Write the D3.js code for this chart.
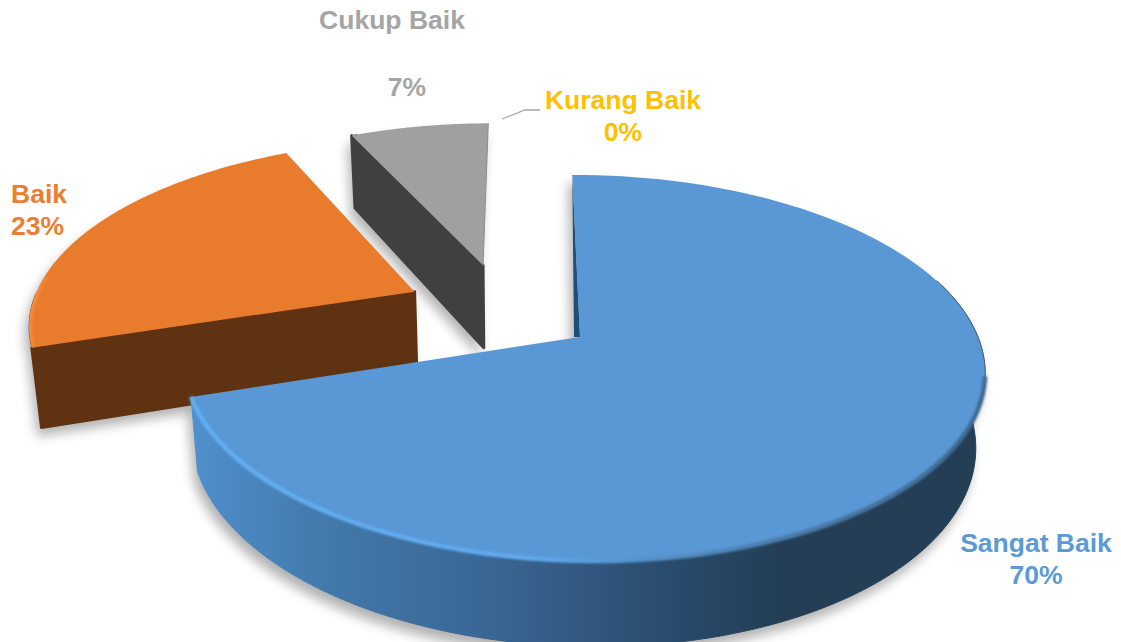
<!DOCTYPE html>
<html>

<head>
    <meta charset="utf-8" />
    <script src="https://d3js.org/d3.v7.min.js"></script>
    <style>
        html, body { margin: 0; padding: 0; background: #fff; overflow: hidden; }
        text { font-family: "Liberation Sans", Arial, sans-serif; font-weight: bold; font-size: 26.5px; }
    </style>
</head>

<body>
    <div id="chart"></div>

    <script>
        // data
        const categories = ["Sangat Baik", "Baik", "Cukup Baik", "Kurang Baik"];
        const values = [70, 23, 7, 0];

        const svgWidth = 1121;
        const svgHeight = 642;

        // colours
        const labelColors = ["#5b9bd5", "#ed7d31", "#a5a5a5", "#ffc000"];
        const topColors = ["#5997d5", "#e97b2d", "#a0a0a0"];
        const wallColors = ["url(#blueWall)", "#5f3212", "#404040"];
        const cutColors = ["#1f4e79", "#5f3212", "#404040"];

        // how far each slice is pulled out, in units of the pie radius
        const explode = [[0, 0], [-0.437, 0.24], [-0.262, 0.40], [0, 0]];
        const sliceRadius = [1, 1.01, 0.985, 1];
        const sliceDepth = [72, 80, 88, 0];
        const cutLean = [6, 0, 0, 0];
        // part of each outer wall that faces the viewer, radians from the slice start
        const wallFrom = [1.25, 0, 0, 0];
        const wallTo = [Infinity, 0.3, 0.02, 0];

        // perspective of the pie plane
        const center = { x: 580, y: 337 };
        const scaleX = 395, scaleY = 188, skewY = -5, persp = 0.16, perspX = -0.012;
        const startDeg = -1.3;

        const svg = d3.select("#chart")
            .append("svg")
            .attr("width", svgWidth)
            .attr("height", svgHeight)
            .style("display", "block");

        function project(x, y) {
            const d = 1 + persp * y + perspX * x;
            return { x: center.x + scaleX * x / d, y: center.y - (scaleY * y + skewY * x) / d, d: d };
        }

        // point on the top face, angle in radians clockwise from the back
        function topPoint(i, a, r) {
            const o = explode[i];
            const rr = r * sliceRadius[i];
            return project(o[0] + rr * Math.sin(a), o[1] + rr * Math.cos(a));
        }

        // same point on the underside of the slice
        function bottomPoint(i, a, r) {
            const p = topPoint(i, a, r);
            return [p.x - 0.02 * (p.x - 520), p.y + sliceDepth[i] / p.d];
        }

        function arcAngles(s, e) {
            return d3.range(0, 121).map(k => s + (e - s) * k / 120);
        }

        const line = d3.line();
        const pie = d3.pie().sort(null)
            .startAngle(startDeg * Math.PI / 180)
            .endAngle(startDeg * Math.PI / 180 + 2 * Math.PI);
        const slices = pie(values).map((d, i) => ({ i: i, s: d.startAngle, e: d.endAngle, v: d.value }))
            .filter(d => d.v > 0);

        const topPath = d => line([[topPoint(d.i, 0, 0).x, topPoint(d.i, 0, 0).y]]
            .concat(arcAngles(d.s, d.e).map(a => {
                const p = topPoint(d.i, a, 1);
                return [p.x, p.y];
            }))) + "Z";

        const wallPath = d => {
            const ang = arcAngles(d.s + wallFrom[d.i], Math.min(d.e, d.s + wallTo[d.i]));
            const up = ang.map(a => {
                const p = topPoint(d.i, a, 1);
                return [p.x, p.y];
            });
            const down = ang.slice().reverse().map(a => bottomPoint(d.i, a, 1));
            return line(up.concat(down)) + "Z";
        };

        const cutPath = d => {
            const c = topPoint(d.i, 0, 0);
            const r = topPoint(d.i, d.s, 1);
            if (cutLean[d.i]) {
                return line([[c.x, c.y], [r.x, r.y], [c.x - cutLean[d.i], c.y]]) + "Z";
            }
            return line([[c.x, c.y], [r.x, r.y], bottomPoint(d.i, d.s, 1), bottomPoint(d.i, 0, 0)]) + "Z";
        };

        const rimPath = (i, s, e) => line(arcAngles(s, e).map(a => {
            const p = topPoint(i, a, 1);
            return [p.x, p.y];
        }));

        // defs
        const defs = svg.append("defs");
        const blur = (id, dev) => defs.append("filter").attr("id", id)
            .attr("x", "-20%").attr("y", "-20%").attr("width", "140%").attr("height", "140%")
            .append("feGaussianBlur").attr("stdDeviation", dev);
        blur("shadowBlur", 6);
        blur("rimBlur", 1.3);

        defs.append("clipPath").attr("id", "orangeTop")
            .append("path").attr("d", topPath(slices[1]));

        function hGradient(id, stops) {
            const g = defs.append("linearGradient").attr("id", id)
                .attr("gradientUnits", "userSpaceOnUse")
                .attr("x1", 190).attr("x2", 986).attr("y1", 0).attr("y2", 0);
            stops.forEach(s => g.append("stop").attr("offset", s[0]).attr("stop-color", s[1]));
        }
        hGradient("blueWall", [[0, "#4f90ce"], [0.17, "#4379ab"], [0.36, "#3a6896"], [0.48, "#335a82"], [0.62, "#28496a"], [0.75, "#233e55"], [1, "#233e55"]]);
        hGradient("blueRim", [[0, "#62aef2"], [0.42, "#62abef"], [0.58, "#5590c8"], [0.75, "#4a7ba8"], [1, "#3f6a90"]]);

        // soft shadows under every slice
        const shadow = svg.append("g").attr("filter", "url(#shadowBlur)")
            .attr("fill", "#000").attr("opacity", 0.3)
            .attr("transform", "translate(-4, 9)");
        slices.forEach(d => {
            shadow.append("path").attr("d", topPath(d));
            shadow.append("path").attr("d", wallPath(d));
            shadow.append("path").attr("d", cutPath(d));
        });

        // slices back to front
        const order = [2, 1, 0];
        order.forEach(i => {
            const d = slices[i];
            const g = svg.append("g");
            g.append("path").attr("d", wallPath(d))
                .attr("fill", wallColors[i]).attr("stroke", wallColors[i])
                .attr("stroke-width", 1).attr("stroke-linejoin", "round");
            g.append("path").attr("d", cutPath(d))
                .attr("fill", cutColors[i]).attr("stroke", cutColors[i])
                .attr("stroke-width", i === 0 ? 0 : 3).attr("stroke-linejoin", "round");
            g.append("path").attr("d", topPath(d)).attr("fill", topColors[i]);
        });

        // lit edges of the bevel
        svg.append("path")
            .attr("d", rimPath(0, 100 * Math.PI / 180, slices[0].e))
            .attr("fill", "none").attr("stroke", "url(#blueRim)")
            .attr("stroke-width", 4.5).attr("filter", "url(#rimBlur)");
        svg.append("path")
            .attr("d", rimPath(0, 72 * Math.PI / 180, 100 * Math.PI / 180))
            .attr("fill", "none").attr("stroke", "#3f6a90").attr("stroke-width", 1);
        svg.append("g").attr("clip-path", "url(#orangeTop)")
            .append("path")
            .attr("d", rimPath(1, slices[1].s, slices[1].s + 0.4))
            .attr("fill", "none").attr("stroke", "#f48b3c")
            .attr("stroke-width", 6).attr("filter", "url(#rimBlur)");
        const grayEdgeA = topPoint(2, 0, 0), grayEdgeB = topPoint(2, slices[2].e, 1);
        svg.append("line")
            .attr("x1", grayEdgeA.x).attr("y1", grayEdgeA.y)
            .attr("x2", grayEdgeB.x).attr("y2", grayEdgeB.y)
            .attr("stroke", "#8c8c8c").attr("stroke-width", 1);

        // labels
        const labelPos = [
            { x: 1036, y: [552, 584], anchor: "middle" },
            { x: 11, y: [203, 235], anchor: "start" },
            { x: 392, y: [29, 96], anchor: "middle", x2: 407 },
            { x: 623, y: [109, 141], anchor: "middle" }
        ];
        categories.forEach((c, i) => {
            const p = labelPos[i];
            svg.append("text").attr("x", p.x).attr("y", p.y[0])
                .attr("text-anchor", p.anchor).attr("fill", labelColors[i]).text(c);
            svg.append("text").attr("x", p.x2 || p.x).attr("y", p.y[1])
                .attr("text-anchor", p.anchor).attr("fill", labelColors[i]).text(values[i] + "%");
        });

        // leader line for the empty slice
        svg.append("path")
            .attr("d", line([[502, 119], [525, 110], [540, 110]]))
            .attr("fill", "none").attr("stroke", "#a5a5a5").attr("stroke-width", 1.3);
    </script>
</body>

</html>
